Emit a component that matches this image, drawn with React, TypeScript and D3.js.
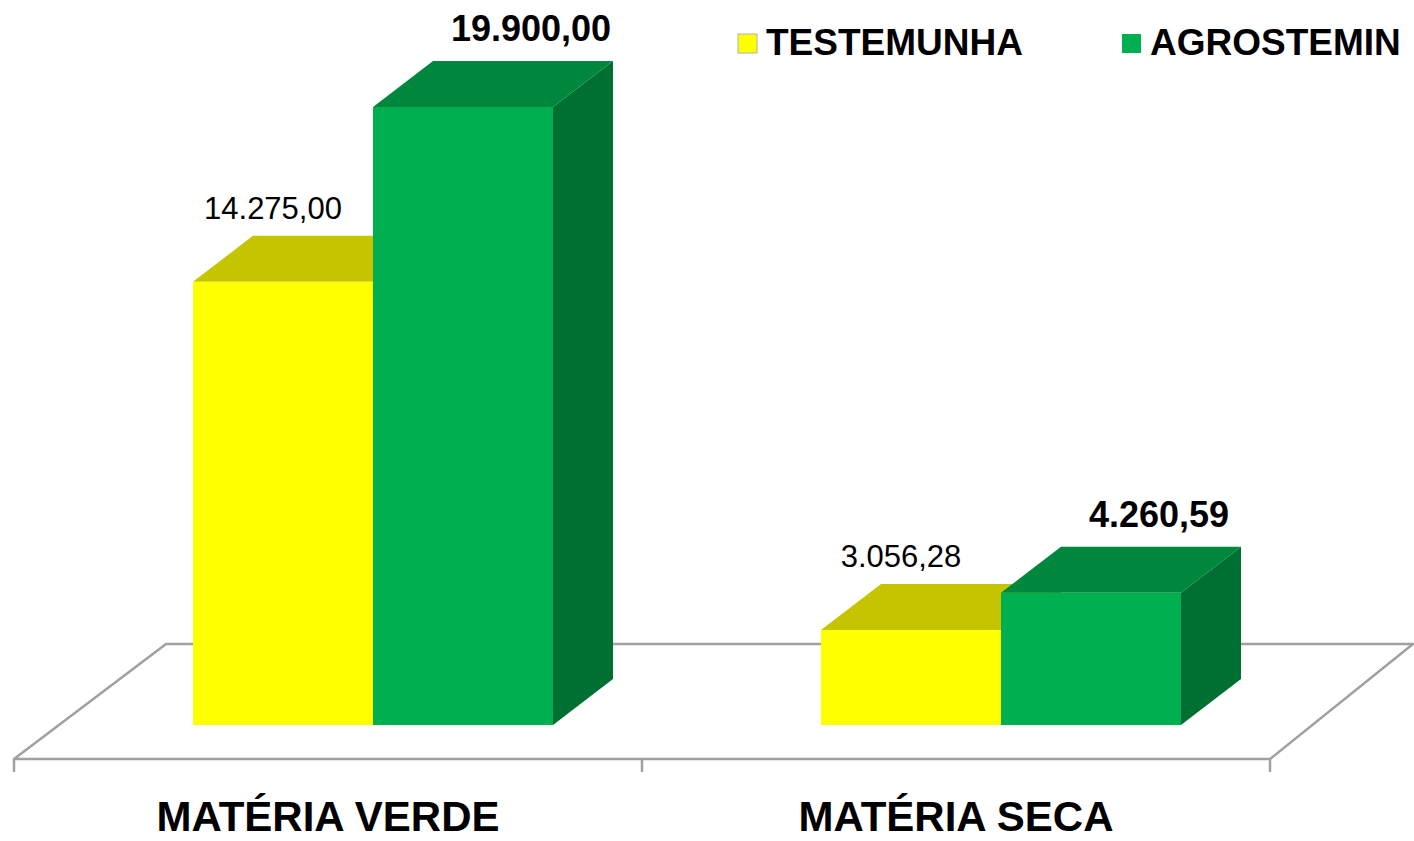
import React from "react";
import * as d3 from "d3";

const categories = ["MATÉRIA VERDE", "MATÉRIA SECA"];
const seriesNames = ["TESTEMUNHA", "AGROSTEMIN"];
const testemunhaValues = [14275.0, 3056.28];
const agrosteminValues = [19900.0, 4260.59];
const seriesValues = [testemunhaValues, agrosteminValues];

const W = 1414;
const H = 841;
const FONT = "'Liberation Sans', Arial, sans-serif";

const frontColors = ["#FFFF00", "#00B050"];
const topColors = ["#C4C400", "#00873E"];
const sideColors = ["#9C9C00", "#007032"];

const fmt = (v: number) => {
  const s = v.toFixed(2);
  const [int, dec] = s.split(".");
  const withDots = int.replace(/\B(?=(\d{3})+(?!\d))/g, ".");
  return `${withDots},${dec}`;
};

export default function App() {
  const floorFrontY = 759;
  const floorDx = 152;
  const floorDy = 115;
  const x = d3.scaleBand<string>().domain(categories).range([14, 1270]).padding(0);
  const inner = d3.scaleBand<string>().domain(seriesNames).range([0, 360]).padding(0);
  const barShiftX = 45;
  const y = d3.scaleLinear().domain([0, 20000]).range([725, 725 - 20000 * 0.03105]);
  const dx = 60;
  const dy = 46;
  const bw = inner.bandwidth();

  const x0 = x.range()[0];
  const x1 = x.range()[1];
  const floorPts = [
    [x0, floorFrontY],
    [x0 + floorDx, floorFrontY - floorDy],
    [x1 + floorDx - 9, floorFrontY - floorDy],
    [x1, floorFrontY],
  ];
  const gray = "#A0A0A0";

  const bars: JSX.Element[] = [];
  const labels: JSX.Element[] = [];
  categories.forEach((c, ci) => {
    const groupLeft = (x(c) as number) + x.bandwidth() / 2 - 180 + barShiftX;
    seriesNames.forEach((s, si) => {
      const v = seriesValues[si][ci];
      const bx = groupLeft + (inner(s) as number);
      const yt = y(v);
      const yb = y(0);
      const front = `M${bx},${yt}H${bx + bw}V${yb}H${bx}Z`;
      const top = `M${bx},${yt}L${bx + dx},${yt - dy}H${bx + bw + dx}L${bx + bw},${yt}Z`;
      const side = `M${bx + bw},${yt}L${bx + bw + dx},${yt - dy}V${yb - dy}L${bx + bw},${yb}Z`;
      bars.push(
        <g key={`${c}-${s}`}>
          <path d={side} fill={sideColors[si]} />
          <path d={top} fill={topColors[si]} />
          <path d={front} fill={frontColors[si]} />
        </g>
      );
      const isBold = si === 1;
      labels.push(
        <text
          key={`l-${c}-${s}`}
          x={bx + (isBold ? 158 : 80)}
          y={yt - (isBold ? 66 : 63)}
          textAnchor="middle"
          fontFamily={FONT}
          fontSize={isBold ? 36 : 31}
          fontWeight={isBold ? "bold" : "normal"}
          fill="#000"
        >
          {fmt(v)}
        </text>
      );
    });
  });

  const legendX = [738, 1122];

  return (
    <svg
      width={W}
      height={H}
      style={{ position: "absolute", left: 0, top: 0, background: "#fff" }}
    >
      <rect x={0} y={0} width={W} height={H} fill="#fff" />
      <polygon
        points={floorPts.map((p) => p.join(",")).join(" ")}
        fill="#fff"
        stroke={gray}
        strokeWidth={2.5}
        strokeLinejoin="round"
      />
      {[...categories.map((c) => x(c) as number), x1].map((t, i) => (
        <line key={i} x1={t} x2={t} y1={floorFrontY} y2={floorFrontY + 13} stroke={gray} strokeWidth={2.5} />
      ))}
      {bars}
      {labels}
      {categories.map((c) => (
        <text
          key={c}
          x={(x(c) as number) + x.bandwidth() / 2}
          y={831}
          textAnchor="middle"
          fontFamily={FONT}
          fontSize={42}
          fontWeight="bold"
          fill="#000"
        >
          {c}
        </text>
      ))}
      {seriesNames.map((s, i) => (
        <g key={s}>
          <rect x={legendX[i]} y={34} width={19} height={19} fill={frontColors[i]} stroke={i === 0 ? "#B0B0B0" : "none"} strokeWidth={1} />
          <text x={legendX[i] + 28} y={55} fontFamily={FONT} fontSize={37} fontWeight="bold" fill="#000">
            {s}
          </text>
        </g>
      ))}
    </svg>
  );
}
